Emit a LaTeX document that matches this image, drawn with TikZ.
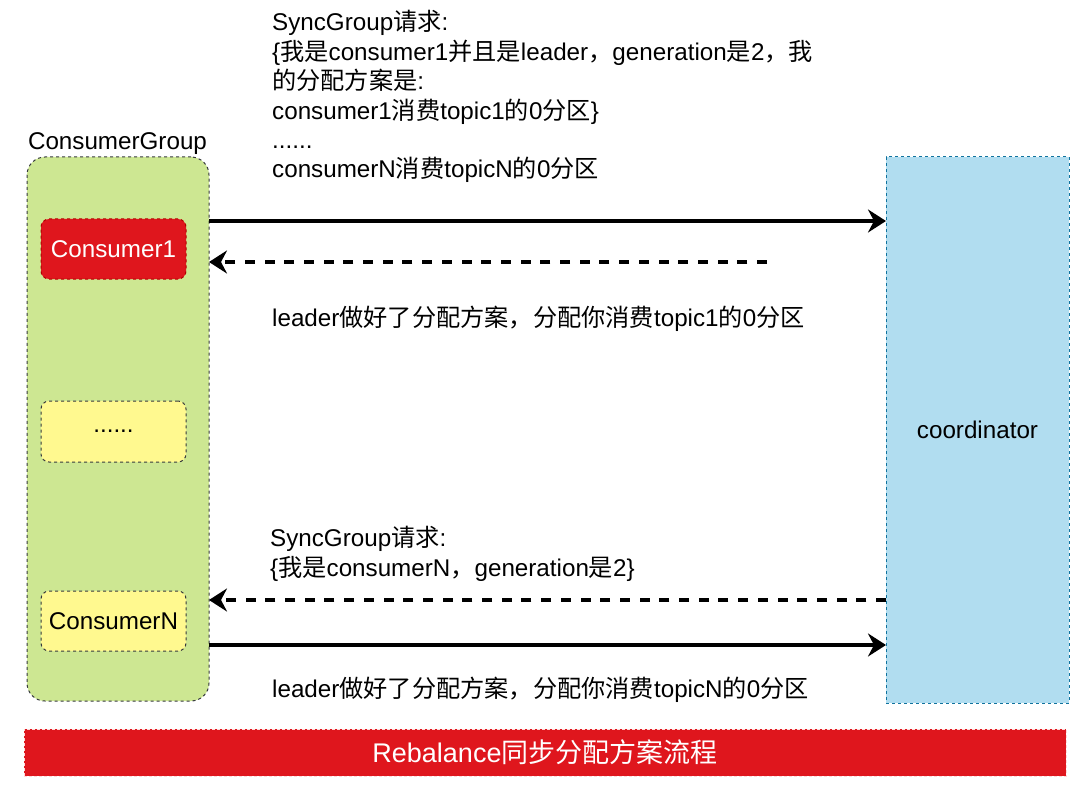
\documentclass[tikz,border=0pt]{standalone}
\usepackage{fontspec}
\setmainfont{Liberation Sans}
\newfontfamily\cjk{Noto Sans CJK SC}
\usetikzlibrary{arrows.meta}
\definecolor{grpfill}{HTML}{CDE792}
\definecolor{grpline}{HTML}{36393D}
\definecolor{redfill}{HTML}{DF161D}
\definecolor{redline}{HTML}{B20000}
\definecolor{yelfill}{HTML}{FFF98F}
\definecolor{blufill}{HTML}{B1DDF0}
\definecolor{bluline}{HTML}{10739E}
\newcommand\zh[1]{{\cjk #1}}
\tikzset{
  fnt/.style={font=\fontsize{24.2}{29.5}\selectfont},
  txt/.style={fnt, inner sep=0pt, anchor=base west},
  box/.style={fnt, inner sep=0pt, outer sep=0pt, line width=1pt, dash pattern=on 3pt off 3pt},
  grpbox/.style={box, draw=grpline, fill=grpfill, rounded corners=18pt},
  redbox/.style={box, draw=redline, fill=redfill, text=white, rounded corners=8pt},
  yelbox/.style={box, draw=grpline, fill=yelfill, rounded corners=8pt},
  blubox/.style={box, draw=bluline, fill=blufill},
  banner/.style={inner sep=0pt, outer sep=0pt, line width=1pt, dash pattern=on 3pt off 2pt, draw=white!85!red, fill=redfill, text=white, font=\fontsize{27}{32}\selectfont},
  conn/.style={line width=3.5pt, -{Stealth[length=18pt,width=23pt,inset=6pt]}},
  dconn/.style={conn, dash pattern=on 10pt off 9.7pt},
}
\begin{document}
\begin{tikzpicture}[x=1pt,y=-1pt]
\useasboundingbox (0,0) rectangle (1080,797);
% boxes
\node[grpbox, minimum width=182pt, minimum height=544pt] (grp) at (118,429) {};
\node[fnt, inner sep=0pt, anchor=base] (glabel) at (117.5,150) {ConsumerGroup};
\node[redbox, minimum width=145pt, minimum height=60pt] (c1) at (113.5,249) {Consumer1};
\node[yelbox, minimum width=145pt, minimum height=61pt] (dots) at (113.5,431.5) {......};
\node[yelbox, minimum width=145pt, minimum height=60pt] (cn) at (113.5,621) {ConsumerN};
\node[blubox, minimum width=183pt, minimum height=546pt] (coord) at (977.5,430) {coordinator};
\node[banner, minimum width=1042pt, minimum height=47pt] (ban) at (545,752.5) {Rebalance\zh{同步分配方案流程}};
% text
\node[txt] (t1) at (272,31) {SyncGroup\zh{请求}:};
\node[txt] (t2) at (272,60.5) {\{\zh{我是}consumer1\zh{并且是}leader\zh{，}generation\zh{是}2\zh{，我}};
\node[txt] (t3) at (272,90) {\zh{的分配方案是}:};
\node[txt] (t4) at (272,119.5) {consumer1\zh{消费}topic1\zh{的}0\zh{分区}\}};
\node[txt] (t5) at (272,149) {......};
\node[txt] (t6) at (272,178) {consumerN\zh{消费}topicN\zh{的}0\zh{分区}};
\node[txt] (t7) at (272,326.5) {leader\zh{做好了分配方案，分配你消费}topic1\zh{的}0\zh{分区}};
\node[txt] (t8) at (270,546.5) {SyncGroup\zh{请求}:};
\node[txt] (t9) at (270,576) {\{\zh{我是}consumerN\zh{，}generation\zh{是}2\}};
\node[txt] (t10) at (272,697.5) {leader\zh{做好了分配方案，分配你消费}topicN\zh{的}0\zh{分区}};
% connectors
\coordinate (ya) at (0,221);
\coordinate (yb) at (767,262);
\coordinate (yc) at (0,600);
\coordinate (yd) at (0,645);
\draw[conn] (grp.east |- ya) -- (coord.west |- ya);
\draw[dconn] (yb) -- (grp.east |- yb);
\draw[dconn] (coord.west |- yc) -- (grp.east |- yc);
\draw[conn] (grp.east |- yd) -- (coord.west |- yd);
\end{tikzpicture}
\end{document}
